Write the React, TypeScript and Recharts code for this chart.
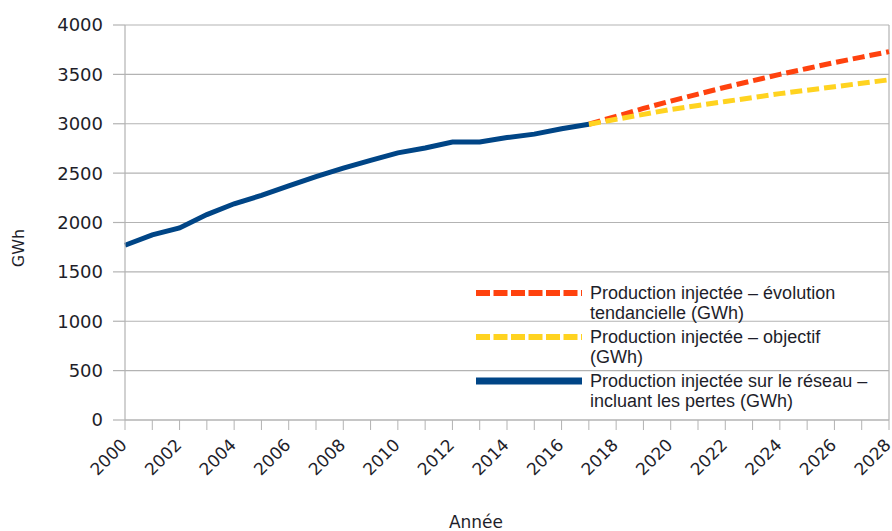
import React from 'react';
import { LineChart, Line, XAxis, YAxis, CartesianGrid, Legend, Label, ReferenceLine } from 'recharts';

const years = [2000, 2001, 2002, 2003, 2004, 2005, 2006, 2007, 2008, 2009, 2010, 2011, 2012, 2013, 2014, 2015, 2016, 2017, 2018, 2019, 2020, 2021, 2022, 2023, 2024, 2025, 2026, 2027, 2028];
const reseauYears = [2000, 2001, 2002, 2003, 2004, 2005, 2006, 2007, 2008, 2009, 2010, 2011, 2012, 2013, 2014, 2015, 2016, 2017];
const reseau = [1770, 1875, 1945, 2080, 2190, 2275, 2370, 2465, 2550, 2630, 2705, 2755, 2815, 2815, 2860, 2895, 2950, 2995];
const projYears = [2017, 2018, 2019, 2020, 2021, 2022, 2023, 2024, 2025, 2026, 2027, 2028];
const tendanciel = [2995, 3075, 3155, 3230, 3300, 3370, 3435, 3500, 3560, 3620, 3675, 3730];
const objectif = [2995, 3045, 3095, 3145, 3185, 3225, 3265, 3305, 3340, 3375, 3410, 3445];
const yTicks = [0, 500, 1000, 1500, 2000, 2500, 3000, 3500, 4000];
const xLabelYears = [2000, 2002, 2004, 2006, 2008, 2010, 2012, 2014, 2016, 2018, 2020, 2022, 2024, 2026, 2028];

const nameTendanciel = 'Production injectée – évolution tendancielle (GWh)';
const nameObjectif = 'Production injectée – objectif (GWh)';
const nameReseau = 'Production injectée sur le réseau – incluant les pertes (GWh)';
const legendOrder = [nameTendanciel, nameObjectif, nameReseau];
const legendLines: Record<string, string[]> = {
  [nameTendanciel]: ['Production injectée – évolution', 'tendancielle (GWh)'],
  [nameObjectif]: ['Production injectée – objectif', '(GWh)'],
  [nameReseau]: ['Production injectée sur le réseau –', 'incluant les pertes (GWh)'],
};

const BLUE = '#004586';
const RED = '#ff420e';
const YELLOW = '#ffd320';
const GRID = '#b3b3b3';
const TEXT = '#1e1e2a';
const AXIS_FONT = '"DejaVu Sans", sans-serif';
const LEGEND_FONT = '"Liberation Sans", Arial, sans-serif';

const data = years.map((year) => {
  const ri = reseauYears.indexOf(year);
  const pi = projYears.indexOf(year);
  return {
    year,
    reseau: ri >= 0 ? reseau[ri] : null,
    tendanciel: pi >= 0 ? tendanciel[pi] : null,
    objectif: pi >= 0 ? objectif[pi] : null,
  };
});

const XTick = (props: any) => {
  const { x, payload } = props;
  if (!xLabelYears.includes(payload.value)) return null;
  const ax = x + 3;
  const ay = 446;
  return (
    <text
      x={ax}
      y={ay}
      textAnchor="end"
      transform={`rotate(-45, ${ax}, ${ay})`}
      fontFamily={AXIS_FONT}
      fontSize={17}
      fill={TEXT}
    >
      {payload.value}
    </text>
  );
};

const LegendContent = (props: any) => {
  const items = [...(props.payload || [])].sort(
    (a: any, b: any) => legendOrder.indexOf(a.value) - legendOrder.indexOf(b.value)
  );
  return (
    <svg width={420} height={140} style={{ display: 'block' }}>
      {items.map((entry: any, i: number) => {
        const cy = 13 + i * 44;
        const lines = legendLines[entry.value] || [entry.value];
        const dashed = entry.payload && entry.payload.strokeDasharray;
        return (
          <g key={i}>
            <line
              x1={6}
              x2={112}
              y1={cy}
              y2={cy}
              stroke={entry.color}
              strokeWidth={dashed ? 6 : 7}
              strokeDasharray={dashed ? '14 3.5' : undefined}
            />
            {lines.map((l: string, j: number) => (
              <text
                key={j}
                x={120}
                y={cy + 6 + j * 20}
                fontFamily={LEGEND_FONT}
                fontSize={18}
                fill={TEXT}
              >
                {l}
              </text>
            ))}
          </g>
        );
      })}
    </svg>
  );
};

export default function App() {
  return (
    <div style={{ position: 'absolute', left: 0, top: 0, width: 892, height: 531, background: '#fff' }}>
      <LineChart
        width={892}
        height={531}
        data={data}
        margin={{ top: 25, right: 3, bottom: 0, left: 0 }}
      >
        <CartesianGrid vertical={false} stroke={GRID} strokeWidth={1.2} />
        <ReferenceLine x={2028} stroke={GRID} strokeWidth={1.2} />
        <XAxis
          dataKey="year"
          type="number"
          domain={[2000, 2028]}
          ticks={years}
          interval={0}
          height={111}
          stroke={GRID}
          tickSize={10}
          tickLine={{ stroke: GRID }}
          axisLine={{ stroke: GRID, strokeWidth: 1.2 }}
          tick={<XTick />}
        >
          <Label
            content={() => (
              <text x={476} y={528} textAnchor="middle" fontFamily={AXIS_FONT} fontSize={17} fill={TEXT}>
                Année
              </text>
            )}
          />
        </XAxis>
        <YAxis
          domain={[0, 4000]}
          ticks={yTicks}
          width={125}
          interval={0}
          tickSize={12}
          tickMargin={10}
          stroke={GRID}
          axisLine={{ stroke: GRID, strokeWidth: 1.2 }}
          tickLine={{ stroke: GRID, strokeWidth: 1.2 }}
          tick={{ fill: TEXT, fontFamily: AXIS_FONT, fontSize: 18 }}
        >
          <Label
            content={() => (
              <text
                x={24}
                y={248}
                textAnchor="middle"
                transform="rotate(-90, 24, 248)"
                fontFamily={AXIS_FONT}
                fontSize={16}
                fill={TEXT}
              >
                GWh
              </text>
            )}
          />
        </YAxis>
        <Legend
          layout="vertical"
          verticalAlign="middle"
          align="center"
          wrapperStyle={{ position: 'absolute', left: 470, top: 280, width: 420, height: 140 }}
          content={<LegendContent />}
        />
        <Line
          name={nameTendanciel}
          dataKey="tendanciel"
          stroke={RED}
          strokeWidth={5}
          strokeDasharray="12 5"
          dot={false}
          connectNulls={false}
          isAnimationActive={false}
        />
        <Line
          name={nameObjectif}
          dataKey="objectif"
          stroke={YELLOW}
          strokeWidth={5}
          strokeDasharray="12 5"
          dot={false}
          connectNulls={false}
          isAnimationActive={false}
        />
        <Line
          name={nameReseau}
          dataKey="reseau"
          stroke={BLUE}
          strokeWidth={5}
          dot={false}
          connectNulls={false}
          isAnimationActive={false}
        />
      </LineChart>
    </div>
  );
}
